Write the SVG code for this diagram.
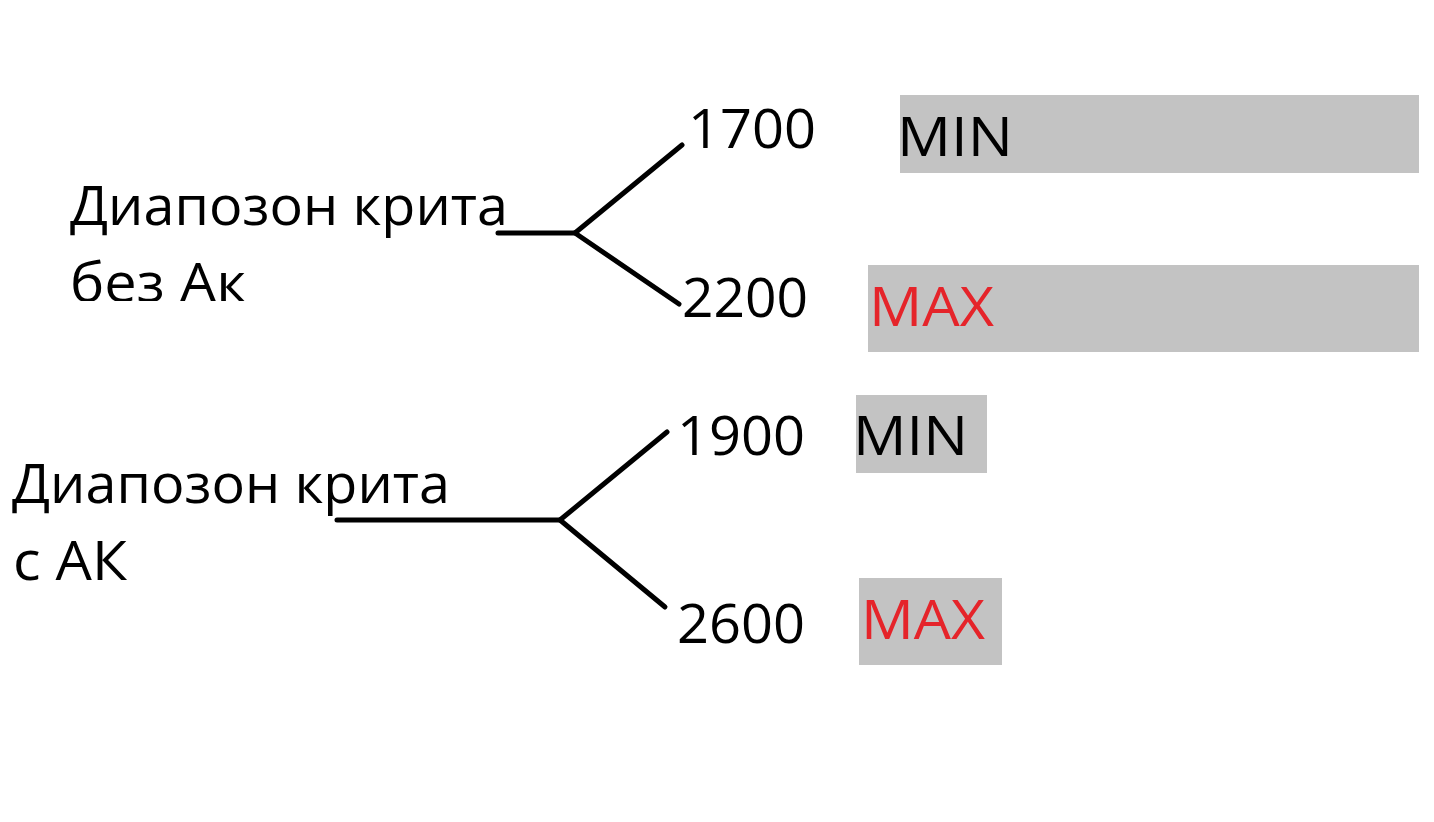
<svg xmlns="http://www.w3.org/2000/svg" width="1434" height="822" viewBox="0 0 1434 822">
<style>
text{font-family:"Open Sans","Noto Sans","Liberation Sans",sans-serif;font-size:54px;font-weight:500;fill:#000}
.red{fill:#e5242a}
.box{fill:#c3c3c3}
.ln{stroke:#000;stroke-width:5;stroke-linecap:round;fill:none}
</style>
<defs>
<clipPath id="clip1"><rect x="0" y="240" width="500" height="61"/></clipPath>
</defs>
<rect width="1434" height="822" fill="#fff"/>
<g id="connectors">
<polyline class="ln" points="498,233 575,233 682,145"/>
<line class="ln" x1="575" y1="233" x2="679" y2="304"/>
<polyline class="ln" points="337,520 560,520 667,432"/>
<line class="ln" x1="560" y1="520" x2="665" y2="607"/>
</g>
<g id="label-bez">
<text x="70" y="225" textLength="438" lengthAdjust="spacingAndGlyphs">Диапозон крита</text>
<text x="70" y="302" clip-path="url(#clip1)" textLength="176" lengthAdjust="spacingAndGlyphs">без Ак</text>
</g>
<g id="label-s">
<text x="12" y="503" textLength="438" lengthAdjust="spacingAndGlyphs">Диапозон крита</text>
<text x="13" y="580" textLength="114" lengthAdjust="spacingAndGlyphs">с АК</text>
</g>
<g id="n1700"><text x="688" y="148" textLength="128" lengthAdjust="spacingAndGlyphs">1700</text></g>
<g id="n2200"><text x="682" y="317" textLength="126" lengthAdjust="spacingAndGlyphs">2200</text></g>
<g id="n1900"><text x="677" y="455" textLength="128" lengthAdjust="spacingAndGlyphs">1900</text></g>
<g id="n2600"><text x="677" y="643" textLength="128" lengthAdjust="spacingAndGlyphs">2600</text></g>
<g id="min1">
<rect class="box" x="900" y="95" width="519" height="78"/>
<text x="897" y="156" textLength="116" lengthAdjust="spacingAndGlyphs">MIN</text>
</g>
<g id="max1">
<rect class="box" x="868" y="265" width="551" height="87"/>
<text class="red" x="869" y="326" textLength="125" lengthAdjust="spacingAndGlyphs">MAX</text>
</g>
<g id="min2">
<rect class="box" x="856" y="395" width="131" height="78"/>
<text x="853" y="455" textLength="115" lengthAdjust="spacingAndGlyphs">MIN</text>
</g>
<g id="max2">
<rect class="box" x="859" y="578" width="143" height="87"/>
<text class="red" x="861" y="639" textLength="124" lengthAdjust="spacingAndGlyphs">MAX</text>
</g>
</svg>
